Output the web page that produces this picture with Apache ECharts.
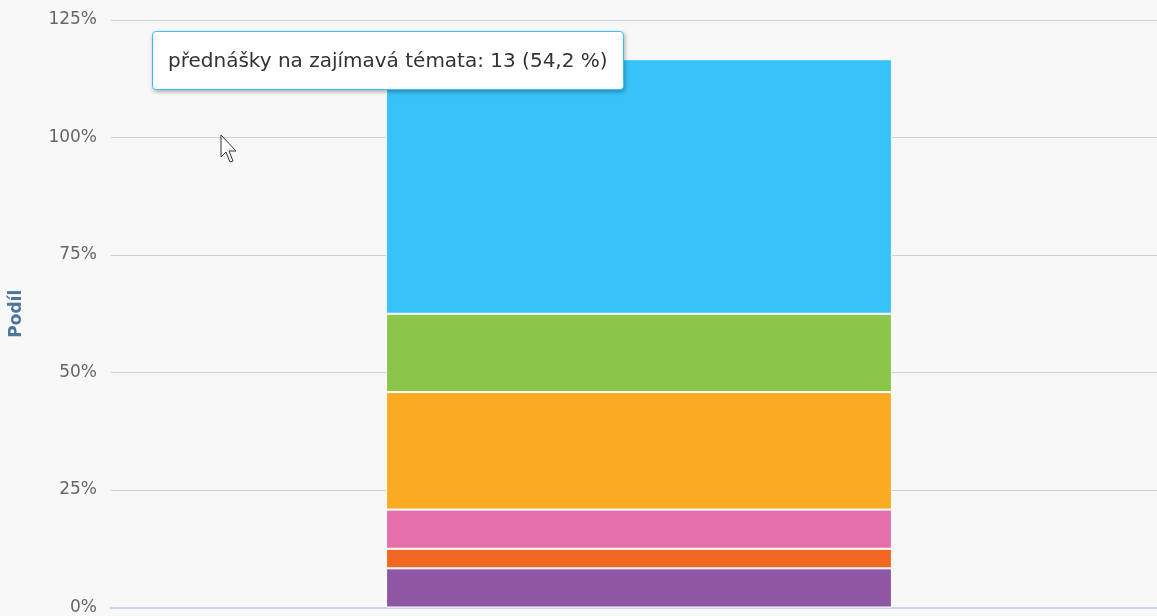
<!DOCTYPE html>
<html><head><meta charset="utf-8">
<script src="https://cdn.jsdelivr.net/npm/echarts@6/dist/echarts.min.js"></script>
<style>html,body{margin:0;padding:0;background:#f8f8f8;overflow:hidden;width:1157px;height:616px}#c{width:1167px;height:616px}</style>
</head><body><div id="c"></div>
<script>
// Data (counts of answers, n respondents; multiple choice so shares sum > 100 %)
const categories = [''];
const respondents = 24;
const seriesNames = ['odpověď 6', 'odpověď 5', 'odpověď 4', 'odpověď 3', 'odpověď 2', 'přednášky na zajímavá témata'];
const seriesCounts = [2, 1, 2, 6, 4, 13];
const seriesColors = ['#8f57a3', '#f26722', '#e56fab', '#fbab23', '#8bc64a', '#37c3f9'];
const yTicks = [0, 25, 50, 75, 100, 125];

const chart = echarts.init(document.getElementById('c'));
const series = seriesNames.map((name, i) => ({
  name: name,
  type: 'bar',
  stack: 'total',
  barWidth: '47.9%',
  data: [seriesCounts[i] / respondents * 100],
  itemStyle: { color: seriesColors[i], borderColor: '#ffffff', borderWidth: 1 },
  emphasis: { disabled: true }
}));
chart.setOption({
  animation: false,
  backgroundColor: '#f8f8f8',
  grid: { left: 111, right: 0, top: 20, bottom: 7, containLabel: false },
  tooltip: {
    trigger: 'item',
    alwaysShowContent: true,
    triggerOn: 'none',
    position: [152, 31],
    backgroundColor: '#ffffff',
    borderColor: '#37c3f9',
    borderWidth: 1,
    borderRadius: 4,
    padding: [16, 15, 16, 15],
    textStyle: { color: '#333333', fontSize: 20, lineHeight: 25, fontFamily: 'DejaVu Sans' },
    extraCssText: 'box-shadow: 1px 2px 4px rgba(0,0,0,0.3);',
    formatter: p => p.seriesName + ': ' + seriesCounts[p.seriesIndex] + ' (' + p.value.toFixed(1).replace('.', ',') + ' %)'
  },
  xAxis: {
    type: 'category',
    data: categories,
    axisLine: { lineStyle: { color: '#ccd6eb', width: 2 } },
    axisTick: { alignWithLabel: true, length: 8, lineStyle: { color: '#ccd6eb', width: 2 } },
    axisLabel: { show: false }
  },
  yAxis: {
    type: 'value',
    min: yTicks[0],
    max: yTicks[yTicks.length - 1],
    interval: 25,
    name: 'Podíl',
    nameLocation: 'middle',
    nameGap: 86,
    nameTextStyle: { color: '#4d759e', fontWeight: 'bold', fontSize: 17, fontFamily: 'DejaVu Sans' },
    axisLabel: { formatter: '{value}%', color: '#666666', fontSize: 17, fontFamily: 'DejaVu Sans', margin: 14, padding: [4, 0, 0, 0] },
    splitLine: { lineStyle: { color: '#d0d0d0', width: 1 } },
    axisLine: { show: false },
    axisTick: { show: false }
  },
  graphic: [{
    type: 'polygon',
    z: 100,
    shape: { points: [[221,135],[221,157],[226,152],[230,162],[233,161],[229,151],[236,151]] },
    style: { fill: '#ffffff', stroke: '#333333', lineWidth: 1 }
  }],
  series: series
});
chart.dispatchAction({ type: 'showTip', seriesIndex: 5, dataIndex: 0 });
</script></body></html>
